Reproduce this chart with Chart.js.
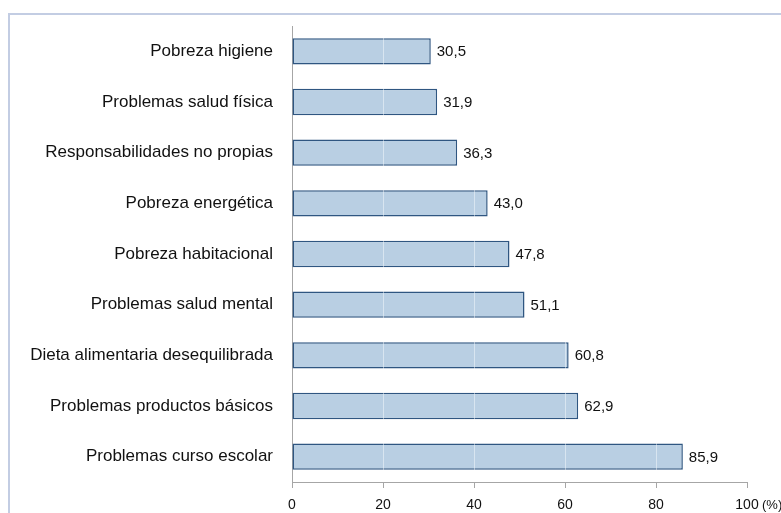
<!DOCTYPE html>
<html lang="es">
<head>
    <meta charset="UTF-8">
    <title>Problemas</title>
    <script src="https://cdn.jsdelivr.net/npm/chart.js"></script>
    <style>
        body {
            margin: 0;
            padding: 0;
            background: #fff;
            overflow: hidden;
        }
        .frame {
            position: absolute;
            left: 8px;
            top: 13px;
            width: 900px;
            height: 700px;
            border: 2px solid #c3cde3;
        }
        .wrap {
            position: absolute;
            left: 0;
            top: 0;
            width: 781px;
            height: 513px;
        }
    </style>
</head>
<body>
    <div class="frame"></div>
    <div class="wrap"><canvas id="barChart"></canvas></div>

    <script>
        const categories = [
            'Pobreza higiene',
            'Problemas salud física',
            'Responsabilidades no propias',
            'Pobreza energética',
            'Pobreza habitacional',
            'Problemas salud mental',
            'Dieta alimentaria desequilibrada',
            'Problemas productos básicos',
            'Problemas curso escolar'
        ];
        const values = [30.5, 31.9, 36.3, 43.0, 47.8, 51.1, 60.8, 62.9, 85.9];
        const xTicks = [0, 20, 40, 60, 80, 100];

        const fontFamily = "'Liberation Sans', Arial, sans-serif";

        // light grid lines show through the bars, value labels, "(%)" unit
        const labelPlugin = {
            id: 'barLabels',
            afterDatasetsDraw(chart) {
                const ctx = chart.ctx;
                const xs = chart.scales.x;
                const area = chart.chartArea;
                const meta = chart.getDatasetMeta(0);
                ctx.save();
                ctx.strokeStyle = 'rgba(255,255,255,0.45)';
                ctx.lineWidth = 1;
                xTicks.slice(1, -1).forEach(v => {
                    const px = Math.round(xs.getPixelForValue(v)) + 0.5;
                    ctx.beginPath();
                    ctx.moveTo(px, area.top);
                    ctx.lineTo(px, area.bottom);
                    ctx.stroke();
                });
                ctx.font = '15px ' + fontFamily;
                ctx.fillStyle = '#111';
                ctx.textBaseline = 'middle';
                ctx.textAlign = 'left';
                meta.data.forEach((bar, i) => {
                    const txt = values[i].toFixed(1).replace('.', ',');
                    ctx.fillText(txt, bar.x + 6, bar.y + 1);
                });
                ctx.font = '13px ' + fontFamily;
                ctx.fillText('(%)', xs.getPixelForValue(100) + 15, xs.top + 23);
                ctx.restore();
            }
        };

        const chartCtx = document.getElementById('barChart').getContext('2d');
        new Chart(chartCtx, {
            type: 'bar',
            data: {
                labels: categories,
                datasets: [{
                    data: values,
                    backgroundColor: 'rgb(185, 207, 227)',
                    borderColor: '#2f5681',
                    borderWidth: 1.5,
                    borderSkipped: false,
                    barPercentage: 0.52,
                    categoryPercentage: 1
                }]
            },
            options: {
                indexAxis: 'y',
                responsive: true,
                maintainAspectRatio: false,
                animation: false,
                layout: { padding: { left: 0, right: 34, top: 26, bottom: 0 } },
                plugins: {
                    legend: { display: false },
                    tooltip: { enabled: false }
                },
                scales: {
                    x: {
                        min: 0,
                        max: 100,
                        afterBuildTicks(scale) {
                            scale.ticks = xTicks.map(v => ({ value: v }));
                        },
                        afterFit(scale) { scale.height = 31; },
                        grid: {
                            drawOnChartArea: false,
                            tickColor: '#a6a6a6',
                            tickLength: 6
                        },
                        border: { color: '#a6a6a6', width: 1 },
                        ticks: {
                            color: '#111',
                            font: { size: 14, family: fontFamily },
                            padding: 9,
                            maxRotation: 0
                        }
                    },
                    y: {
                        afterFit(scale) { scale.width = 292; },
                        grid: { display: false },
                        border: { color: '#a6a6a6', width: 1 },
                        ticks: {
                            color: '#111',
                            font: { size: 17, family: fontFamily },
                            padding: 11
                        }
                    }
                }
            },
            plugins: [labelPlugin]
        });
    </script>
</body>
</html>
